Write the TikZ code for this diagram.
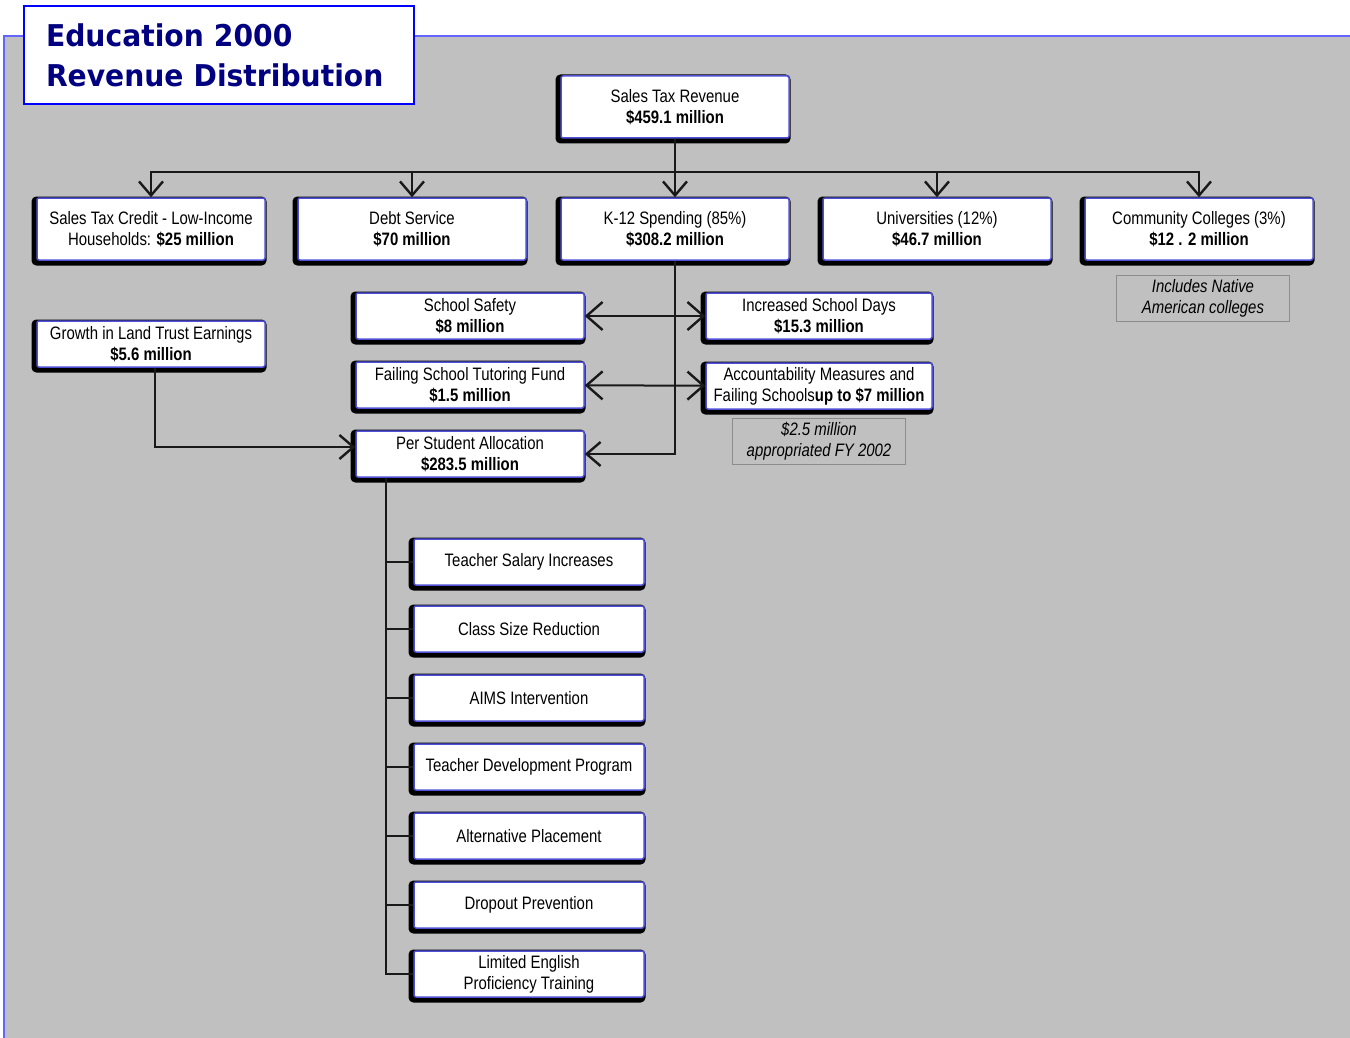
\documentclass[tikz,border=0pt]{standalone}
\usepackage{fontspec}
\setmainfont[FakeStretch=0.83]{Liberation Sans}
\newfontfamily\titlefont[FakeStretch=0.94]{DejaVu Sans}
\usetikzlibrary{arrows.meta}
\definecolor{panel}{RGB}{192,192,192}
\definecolor{edge}{RGB}{100,100,255}
\definecolor{navy}{RGB}{0,0,128}
\definecolor{rim}{RGB}{80,80,215}

\begin{document}
\begin{tikzpicture}
        [
        x=1pt, y=-1pt,
        font=\fontsize{18}{21}\selectfont,
        block/.style={rectangle, rounded corners=2pt, fill=white, draw=rim, line width=1.5pt,
                inner sep=1pt, align=center, minimum width=228pt, minimum height=46pt,
                preaction={draw=black, line width=7pt, transform canvas={xshift=-2pt, yshift=-2pt}}},
        note/.style={rectangle, fill=panel, draw=black!45, line width=1pt, inner sep=1pt,
                align=center, minimum width=173pt, minimum height=46pt, font=\fontsize{18}{21}\selectfont\itshape},
        titlebox/.style={rectangle, fill=white, draw=blue, line width=2pt, align=left,
                text width=346pt, inner xsep=22pt, minimum height=98pt, text=navy,
                font=\titlefont\bfseries\fontsize{30}{40}\selectfont},
        link/.style={draw=black!90, line width=2pt},
        fwd/.style={link, -{Straight Barb[length=14pt,width=24pt,line width=2.4pt]}},
        both/.style={link, {Straight Barb[length=16pt,width=28pt,line width=2.4pt]}-{Straight Barb[length=16pt,width=28pt,line width=2.4pt]}},
        ]
                % page
                \useasboundingbox (0,0) rectangle (1350,1038);
                \fill[panel] (4,36) rectangle (1350,1038);
                \draw[edge, line width=1.2pt] (4,1038) -- (4,36) -- (1350,36);
                \node[titlebox] (title) at (219,55) {Education 2000\\Revenue Distribution};

                % revenue and first split
                \node[block, minimum height=62pt] (rev) at (675,107) {Sales Tax Revenue\\\textbf{\$459.1 million}};
                \node[block, minimum height=62pt] (credit) at (151,229) {Sales Tax Credit - Low-Income\\Households: \textbf{\$25 million}};
                \node[block, minimum height=62pt] (debt) at (412,229) {Debt Service\\\textbf{\$70 million}};
                \node[block, minimum height=62pt] (k12) at (675,229) {K-12 Spending (85\%)\\\textbf{\$308.2 million}};
                \node[block, minimum height=62pt] (univ) at (937,229) {Universities (12\%)\\\textbf{\$46.7 million}};
                \node[block, minimum height=62pt] (cc) at (1199,229) {Community Colleges (3\%)\\\textbf{\$12 . 2 million}};

                % K-12 programs
                \node[block] (safety) at (470,316) {School Safety\\\textbf{\$8 million}};
                \node[block, minimum width=226pt] (days) at (819,316) {Increased School Days\\\textbf{\$15.3 million}};
                \node[block] (growth) at (151,344) {Growth in Land Trust Earnings\\\textbf{\$5.6 million}};
                \node[block] (tutor) at (470,385) {Failing School Tutoring Fund\\\textbf{\$1.5 million}};
                \node[block, minimum width=226pt] (acct) at (819,386) {Accountability Measures and\\Failing Schools\textbf{up to \$7 million}};
                \node[block] (ps) at (470,454) {Per Student Allocation\\\textbf{\$283.5 million}};

                % notes
                \node[note] (native) at (1203,298) {Includes Native\\American colleges};
                \node[note] (approp) at (819,441) {\$2.5 million\\appropriated FY 2002};

                % per student uses
                \foreach \name/\y/\txt in {salary/562/Teacher Salary Increases,
                                class/629/Class Size Reduction,
                                aims/698/AIMS Intervention,
                                devel/767/Teacher Development Program,
                                alt/836/Alternative Placement,
                                dropout/905/Dropout Prevention,
                                lep/974/{Limited English\\Proficiency Training}}
                        \node[block, minimum width=230pt] (\name) at (529,\y) {\txt};

                % drawing code
                \foreach \to in {credit,debt,k12,univ,cc} \draw[fwd] (rev.south) -- ++(0,33) -| (\to.north);
                \draw[fwd] (k12.south) |- (ps.east);
                \foreach \from/\to in {safety/days,tutor/acct} \draw[both] (\from) -- (\to);
                \draw[fwd] ([xshift=4pt]growth.south) |- ([yshift=7pt]ps.west);
                \foreach \to in {salary,class,aims,devel,alt,dropout,lep} \draw[link] ([xshift=31pt]ps.south west) |- (\to.west);
        \end{tikzpicture}
\end{document}
